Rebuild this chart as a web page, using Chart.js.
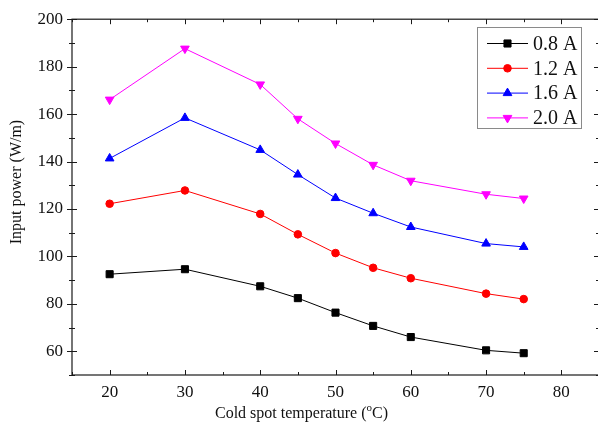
<!DOCTYPE html>
<html>
<head>
<meta charset="utf-8">
<script src="https://cdn.jsdelivr.net/npm/chart.js@4.4.0/dist/chart.umd.min.js"></script>
<style>
  html, body { margin: 0; padding: 0; background: #fff; overflow: hidden; }
  #wrap { width: 598px; height: 430px; overflow: hidden; }
</style>
</head>
<body>
<div id="wrap"><canvas id="chart" width="610" height="430"></canvas></div>
<script>
// cold spot temperature, °C
const temps = [20, 30, 40, 45, 50, 55, 60, 70, 75];
// input power, W/m, one list per current
const power08 = [92.5, 94.6, 87.4, 82.4, 76.3, 70.7, 66.0, 60.4, 59.2];
const power12 = [122.2, 127.8, 117.9, 109.3, 101.4, 95.2, 90.8, 84.3, 82.0];
const power16 = [141.3, 158.4, 144.9, 134.5, 124.6, 118.2, 112.4, 105.4, 104.0];
const power20 = [166.1, 187.6, 172.5, 158.0, 147.6, 138.6, 131.9, 126.2, 124.4];
const seriesLabels = ['0.8 A', '1.2 A', '1.6 A', '2.0 A'];
const xTicks = [20, 30, 40, 50, 60, 70, 80];
const yTicks = [60, 80, 100, 120, 140, 160, 180, 200];

const FONT = "'Liberation Serif', 'Times New Roman', serif";

function series(label, values, color, style, rot, r) {
  return {
    label,
    data: temps.map((t, i) => ({ x: t, y: values[i] })),
    borderColor: color,
    backgroundColor: color,
    borderWidth: 1,
    pointStyle: style,
    pointRotation: rot,
    pointRadius: r,
    pointBorderWidth: 1,
    pointBorderColor: color,
    pointBackgroundColor: color,
    tension: 0,
  };
}

// box, ticks, axis titles and legend
const decor = {
  id: 'decor',
  afterDatasetsDraw(chart) {
    const { ctx, chartArea: a, scales: { x, y } } = chart;
    ctx.save();
    ctx.strokeStyle = '#1a1a1a';
    ctx.lineWidth = 1.2;
    ctx.strokeRect(a.left, a.top, a.right - a.left, a.bottom - a.top);

    ctx.lineWidth = 1;
    ctx.beginPath();
    for (let v = x.min; v <= x.max; v += 5) {
      const px = Math.round(x.getPixelForValue(v)) + 0.5;
      const len = v % 10 === 0 ? 5 : 3;
      ctx.moveTo(px, a.bottom); ctx.lineTo(px, a.bottom - len);
      ctx.moveTo(px, a.top); ctx.lineTo(px, a.top + len);
    }
    for (let v = y.min; v <= y.max; v += 10) {
      const py = Math.round(y.getPixelForValue(v)) + 0.5;
      const len = v % 20 === 0 ? 5 : 3;
      ctx.moveTo(a.left - len, py); ctx.lineTo(a.left + len, py);
      ctx.moveTo(a.right, py); ctx.lineTo(a.right - len, py);
    }
    ctx.stroke();

    // axis titles
    ctx.fillStyle = '#111';
    ctx.font = '16px ' + FONT;
    ctx.textBaseline = 'alphabetic';
    const p1 = 'Cold spot temperature (', p3 = 'C)';
    const w1 = ctx.measureText(p1).width;
    const w3 = ctx.measureText(p3).width;
    ctx.font = '11px ' + FONT;
    const w2 = ctx.measureText('o').width;
    const total = w1 + w2 + w3;
    let tx = 301.5 - total / 2;
    ctx.font = '16px ' + FONT;
    ctx.textAlign = 'left';
    ctx.fillText(p1, tx, 418);
    ctx.font = '11px ' + FONT;
    ctx.fillText('o', tx + w1, 411);
    ctx.font = '16px ' + FONT;
    ctx.fillText(p3, tx + w1 + w2, 418);

    ctx.save();
    ctx.translate(17, 182);
    ctx.rotate(-Math.PI / 2);
    ctx.textAlign = 'center';
    ctx.textBaseline = 'middle';
    ctx.fillText('Input power (W/m)', 0, 0);
    ctx.restore();

    // legend
    ctx.fillStyle = '#fff';
    ctx.fillRect(477, 27.5, 105, 101);
    ctx.strokeStyle = '#8a8a8a';
    ctx.lineWidth = 1;
    ctx.strokeRect(477.5, 27.5, 104, 101);
    ctx.font = '20px ' + FONT;
    ctx.textAlign = 'left';
    ctx.textBaseline = 'middle';
    chart.data.datasets.forEach((ds, i) => {
      const ly = 43.5 + i * 24.8;
      ctx.strokeStyle = ds.borderColor;
      ctx.beginPath();
      ctx.moveTo(487, ly); ctx.lineTo(528, ly);
      ctx.stroke();
      ctx.fillStyle = ds.backgroundColor;
      Chart.helpers.drawPoint(ctx, {
        pointStyle: ds.pointStyle, rotation: ds.pointRotation,
        radius: ds.pointRadius, borderWidth: 1
      }, 507.5, ly);
      ctx.fillStyle = '#111';
      ctx.fillText(ds.label, 533, ly + 1);
    });
    ctx.restore();
  }
};

new Chart(document.getElementById('chart'), {
  type: 'line',
  data: {
    datasets: [
      series(seriesLabels[0], power08, '#000000', 'rect', 0, 5),
      series(seriesLabels[1], power12, '#ff0000', 'circle', 0, 3.8),
      series(seriesLabels[2], power16, '#0000ff', 'triangle', 0, 5),
      series(seriesLabels[3], power20, '#ff00ff', 'triangle', 180, 5),
    ]
  },
  options: {
    responsive: false,
    animation: false,
    layout: { padding: { top: 13, right: 11, left: 0, bottom: 0 } },
    plugins: { legend: { display: false }, tooltip: { enabled: false } },
    scales: {
      x: {
        type: 'linear', min: 15, max: 85,
        grid: { display: false, drawTicks: false },
        border: { display: false },
        afterBuildTicks: s => { s.ticks = xTicks.map(v => ({ value: v })); },
        afterFit: s => { s.height = 55; },
        ticks: { color: '#111', font: { family: FONT, size: 17 }, padding: 7, maxRotation: 0 }
      },
      y: {
        min: 50, max: 200,
        grid: { display: false, drawTicks: false },
        border: { display: false },
        afterBuildTicks: s => { s.ticks = yTicks.map(v => ({ value: v })); },
        afterFit: s => { s.width = 72; },
        ticks: { color: '#111', font: { family: FONT, size: 17 }, padding: 9 }
      }
    }
  },
  plugins: [decor]
});
</script>
</body>
</html>
